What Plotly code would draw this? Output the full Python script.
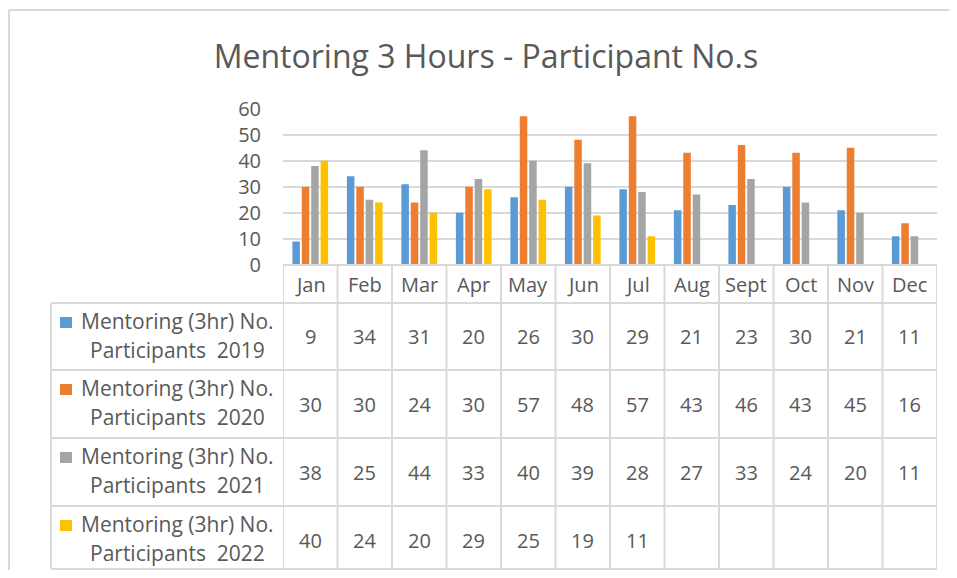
import plotly.graph_objects as go

months = ["Jan", "Feb", "Mar", "Apr", "May", "Jun", "Jul", "Aug", "Sept", "Oct", "Nov", "Dec"]
series_names = ["Mentoring (3hr) No. Participants  2019",
                "Mentoring (3hr) No. Participants  2020",
                "Mentoring (3hr) No. Participants  2021",
                "Mentoring (3hr) No. Participants  2022"]
v2019 = [9, 34, 31, 20, 26, 30, 29, 21, 23, 30, 21, 11]
v2020 = [30, 30, 24, 30, 57, 48, 57, 43, 46, 43, 45, 16]
v2021 = [38, 25, 44, 33, 40, 39, 28, 27, 33, 24, 20, 11]
v2022 = [40, 24, 20, 29, 25, 19, 11, None, None, None, None, None]
colors = ["#5B9BD5", "#ED7D31", "#A5A5A5", "#FFC000"]
series_values = [v2019, v2020, v2021, v2022]

# page body has an 8px margin; figure sized to fit the 957x578 window
OFF = 8
W, H = 957 - 2 * OFF, 578 - 2 * OFF
TXT = "#595959"
LINE = "#D9D9D9"
FONT = "Open Sans"


def xp(px):
    return (px - OFF) / W


def yp(py):
    return 1 - (py - OFF) / H


PLOT_L, PLOT_R = 283, 937
PLOT_T, PLOT_B = 108.5, 265
TABLE_L = 51
row_tops = [303, 370, 438, 506]
TABLE_B = 569

fig = go.Figure()
x_idx = list(range(len(months)))
for name, vals, c in zip(series_names, series_values, colors):
    fig.add_trace(go.Bar(x=x_idx, y=vals, name=name, marker=dict(color=c, line=dict(width=0)),
                         showlegend=False))

shapes = []
annotations = []
# outer border (top and left visible)
shapes.append(dict(type="line", xref="paper", yref="paper", x0=xp(9), x1=xp(1000), y0=yp(10), y1=yp(10),
                   line=dict(color=LINE, width=2)))
shapes.append(dict(type="line", xref="paper", yref="paper", x0=xp(9), x1=xp(9), y0=yp(10), y1=yp(600),
                   line=dict(color=LINE, width=2)))
# table horizontal lines
shapes.append(dict(type="line", xref="paper", yref="paper", x0=xp(PLOT_L), x1=xp(PLOT_R), y0=yp(PLOT_B), y1=yp(PLOT_B),
                   line=dict(color=LINE, width=2)))
for yt in row_tops + [TABLE_B]:
    shapes.append(dict(type="line", xref="paper", yref="paper", x0=xp(TABLE_L), x1=xp(PLOT_R), y0=yp(yt), y1=yp(yt),
                       line=dict(color=LINE, width=2)))
# table vertical lines
shapes.append(dict(type="line", xref="paper", yref="paper", x0=xp(TABLE_L), x1=xp(TABLE_L), y0=yp(row_tops[0]), y1=yp(TABLE_B),
                   line=dict(color=LINE, width=2)))
for i in range(len(months) + 1):
    shapes.append(dict(type="line", xref="x", yref="paper", x0=i - 0.5, x1=i - 0.5, y0=yp(PLOT_B), y1=yp(TABLE_B),
                       line=dict(color=LINE, width=2)))

TFS = 20
LFS = 21
# month header labels
header_c = (PLOT_B + row_tops[0]) / 2
for i, m in enumerate(months):
    annotations.append(dict(x=i, xref="x", y=yp(header_c), yref="paper", text=m, showarrow=False,
                            font=dict(family=FONT, size=TFS, color=TXT), xanchor="center", yanchor="middle"))

# table rows
for r, (name, vals, c) in enumerate(zip(series_names, series_values, colors)):
    top = row_tops[r]
    l1, l2 = name.split(" Participants")
    line2 = "Participants" + l2
    annotations.append(dict(x=xp(177), xref="paper", y=yp(top + 18), yref="paper", text=l1, showarrow=False,
                            font=dict(family=FONT, size=LFS, color=TXT), xanchor="center", yanchor="middle"))
    annotations.append(dict(x=xp(177), xref="paper", y=yp(top + 47), yref="paper",
                            text=line2.replace("  ", "\u00a0\u00a0"), showarrow=False,
                            font=dict(family=FONT, size=LFS, color=TXT), xanchor="center", yanchor="middle"))
    shapes.append(dict(type="rect", xref="paper", yref="paper", x0=xp(60), x1=xp(72), y0=yp(top + 14), y1=yp(top + 25),
                       fillcolor=c, line=dict(width=0)))
    for i, v in enumerate(vals):
        if v is None:
            continue
        annotations.append(dict(x=i, xref="x", y=yp(top + 34), yref="paper", text=str(v), showarrow=False,
                                font=dict(family=FONT, size=TFS, color=TXT), xanchor="center", yanchor="middle"))

fig.update_layout(
    width=W, height=H,
    margin=dict(l=0, r=0, t=0, b=0, pad=0, autoexpand=False),
    paper_bgcolor="white", plot_bgcolor="white",
    title=dict(text="Mentoring 3 Hours - Participant No.s", x=xp(486), xanchor="center",
               y=yp(57), yanchor="middle", font=dict(family=FONT, size=32, color=TXT)),
    barmode="group", bargap=0.31, bargroupgap=0.2,
    xaxis=dict(domain=[xp(PLOT_L), xp(PLOT_R)], range=[-0.5, 11.5], showticklabels=False,
               showgrid=False, zeroline=False, showline=False, ticks="", fixedrange=True, automargin=False),
    yaxis=dict(domain=[yp(PLOT_B), yp(PLOT_T)], range=[0, 60], dtick=10, showgrid=True,
               gridcolor=LINE, gridwidth=2, zeroline=False, showline=False, ticks="", automargin=False,
               tickfont=dict(family=FONT, size=20, color=TXT), ticklabelstandoff=21),
    shapes=shapes, annotations=annotations,
    showlegend=False,
)

fig.write_html("out.html")
